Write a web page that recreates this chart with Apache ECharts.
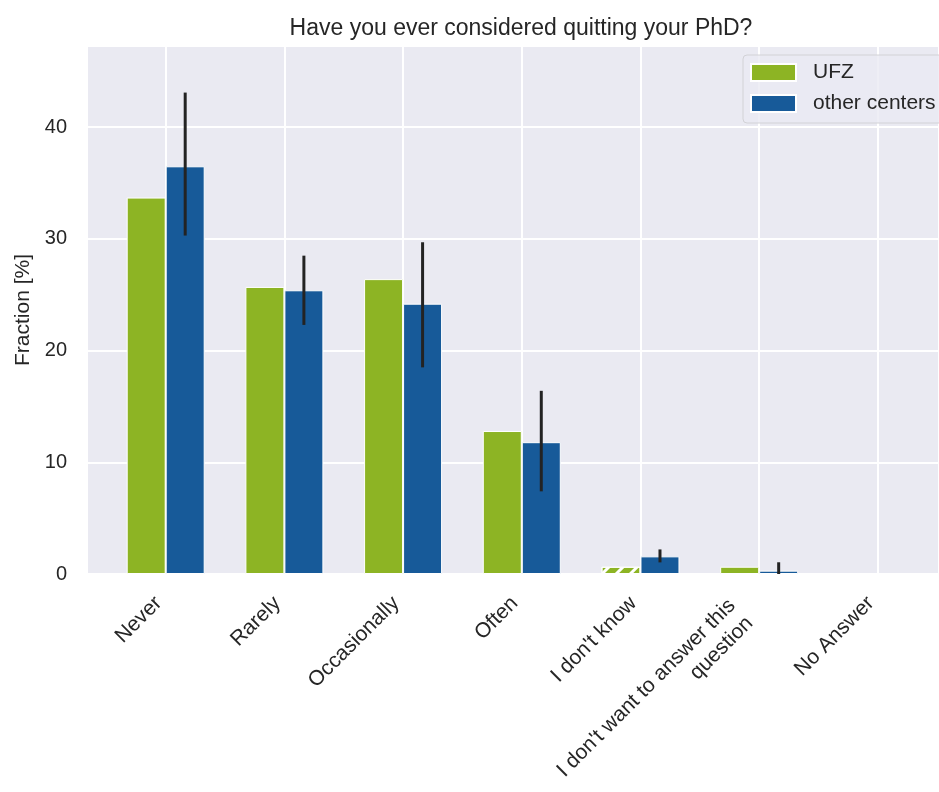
<!DOCTYPE html>
<html lang="en">
<head>
    <meta charset="UTF-8">
    <title>Have you ever considered quitting your PhD?</title>
    <script src="https://cdn.jsdelivr.net/npm/echarts@6/dist/echarts.min.js"></script>
    <style>
        html, body { margin: 0; padding: 0; background: #fff; }
    </style>
</head>
<body>
<div id="main" style="width: 939px;height: 792px;"></div>
<script>
    // answer categories (x axis)
    var categories = ['Never', 'Rarely', 'Occasionally', 'Often', "I don't know",
        "I don't want to answer this\nquestion", 'No Answer'];
    // fraction in percent
    var ufzValues = [33.7, 25.7, 26.4, 12.8, 0.65, 0.65, 0];
    var otherValues = [36.5, 25.4, 24.2, 11.8, 1.58, 0.3, 0];
    // error bar range for the other centers
    var otherLow = [30.3, 22.3, 18.5, 7.4, 1.04, 0, null];
    var otherHigh = [43.1, 28.5, 29.7, 16.4, 2.2, 1.05, null];
    var yTicks = [0, 10, 20, 30, 40];
    // the UFZ bar that is drawn hatched
    var hatchedIndex = 4;

    var font = '"Liberation Sans", Arial, sans-serif';
    var textColor = '#262626';

    var ufzData = ufzValues.map(function (v, i) {
        var item = {value: [i, v]};
        if (i === hatchedIndex) {
            item.itemStyle = {
                decal: {
                    symbol: 'rect',
                    color: '#ffffff',
                    dashArrayX: [1, 0],
                    dashArrayY: [3, 7],
                    rotation: -Math.PI / 4
                }
            };
        }
        return item;
    });
    var otherData = otherValues.map(function (v, i) { return [i, v]; });
    var errData = [];
    otherLow.forEach(function (lo, i) {
        if (lo !== null) errData.push([i, lo, otherHigh[i]]);
    });

    // x tick label; two-line labels get a small spacer so they sit like matplotlib's
    function xLabel(v) {
        var i = Math.round(v);
        if (Math.abs(v - i) > 1e-6 || categories[i] === undefined) return '';
        var lines = categories[i].split('\n');
        if (lines.length === 1) return lines[0];
        return lines.map(function (l) { return '{a|' + l + '}{s| }'; }).join('\n');
    }

    var myChart = echarts.init(document.getElementById('main'));
    var option = {
        backgroundColor: '#ffffff',
        animation: false,
        title: {
            text: 'Have you ever considered quitting your PhD?',
            left: 516,
            top: 12,
            textAlign: 'center',
            textStyle: {fontFamily: font, fontSize: 23, fontWeight: 'normal', color: textColor}
        },
        legend: {
            orient: 'vertical',
            left: 743,
            top: 55,
            padding: [7, 10, 9, 7],
            itemWidth: 45,
            itemHeight: 17,
            itemGap: 10,
            icon: 'rect',
            backgroundColor: 'rgba(234,234,242,0.8)',
            borderColor: '#d2d2d6',
            borderWidth: 1,
            borderRadius: 4,
            textStyle: {fontFamily: font, fontSize: 21, color: textColor, padding: [0, 0, 0, 12]},
            data: ['UFZ', 'other centers']
        },
        grid: {
            left: 87,
            top: 46,
            right: 0,
            bottom: 218,
            outerBoundsMode: 'none',
            show: true,
            backgroundColor: '#eaeaf2',
            borderWidth: 0
        },
        xAxis: {
            type: 'value',
            min: -0.663,
            max: 6.515,
            splitNumber: 7,
            axisLine: {show: false},
            axisTick: {show: false},
            splitLine: {show: true, lineStyle: {color: '#ffffff', width: 2}},
            axisLabel: {
                rotate: 45,
                margin: 19,
                padding: [0, 10, 0, 0],
                fontFamily: font,
                fontSize: 21,
                color: textColor,
                showMinLabel: false,
                showMaxLabel: false,
                formatter: xLabel,
                rich: {
                    a: {fontFamily: font, fontSize: 21, color: textColor, lineHeight: 25},
                    s: {width: 16, fontSize: 21, lineHeight: 25}
                }
            }
        },
        yAxis: {
            type: 'value',
            min: 0,
            max: 47.27,
            interval: 10,
            name: 'Fraction [%]',
            nameLocation: 'middle',
            nameGap: 52,
            nameTextStyle: {fontFamily: font, fontSize: 21, color: textColor},
            axisLine: {show: false},
            axisTick: {show: false},
            splitLine: {show: true, lineStyle: {color: '#ffffff', width: 2}},
            axisLabel: {
                margin: 20,
                fontFamily: font,
                fontSize: 20,
                color: textColor,
                showMaxLabel: false,
                formatter: function (v) { return yTicks.indexOf(v) >= 0 ? String(v) : ''; }
            }
        },
        series: [
            {
                name: 'UFZ',
                type: 'bar',
                barWidth: 39,
                barGap: '0%',
                itemStyle: {color: '#8db424', borderColor: '#ffffff', borderWidth: 1},
                data: ufzData
            },
            {
                name: 'other centers',
                type: 'bar',
                barWidth: 39,
                barGap: '0%',
                itemStyle: {color: '#175a99', borderColor: '#ffffff', borderWidth: 1},
                data: otherData
            },
            {
                name: 'error',
                type: 'custom',
                clip: true,
                z: 5,
                data: errData,
                renderItem: function (params, api) {
                    var lo = api.coord([api.value(0), api.value(1)]);
                    var hi = api.coord([api.value(0), api.value(2)]);
                    var x = lo[0] + 19.5;
                    return {
                        type: 'line',
                        shape: {x1: x, y1: lo[1], x2: x, y2: hi[1]},
                        style: {stroke: '#232323', lineWidth: 3}
                    };
                }
            }
        ]
    };
    myChart.setOption(option);
</script>
</body>
</html>
